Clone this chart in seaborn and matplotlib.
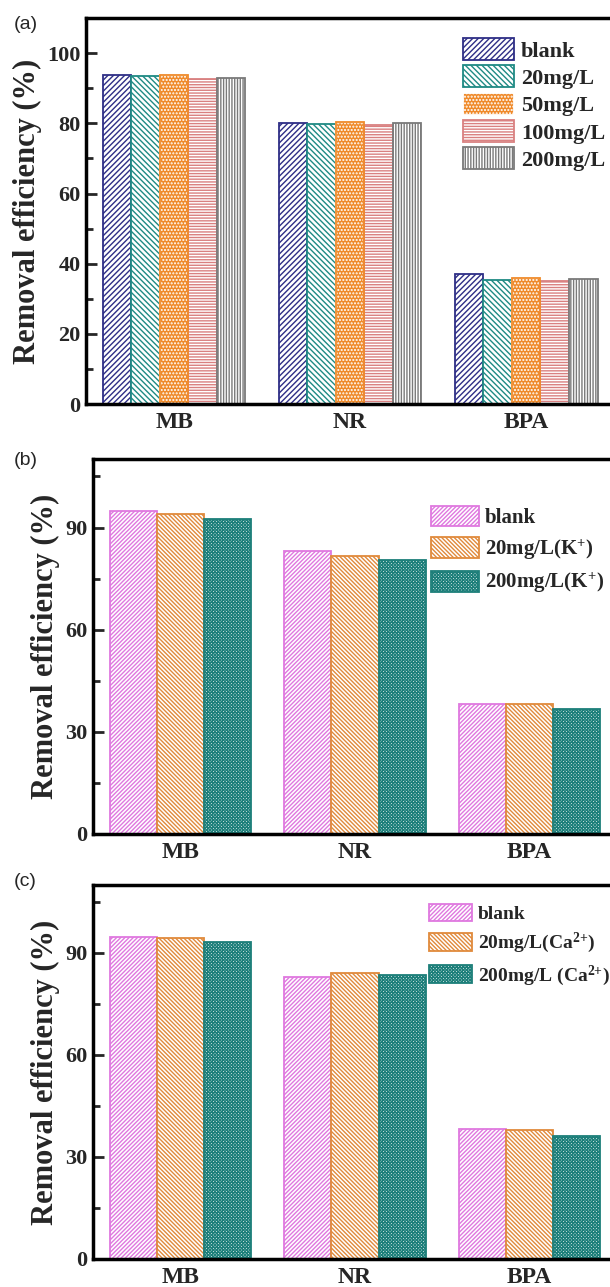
import matplotlib
matplotlib.use('Agg')
import matplotlib.pyplot as plt
import matplotlib.patches as mpatches
from matplotlib.ticker import MultipleLocator
import seaborn as sns
import pandas as pd

samples = ['MB', 'NR', 'BPA']

# panel (a): concentration series
conc_a = ['blank', '20mg/L', '50mg/L', '100mg/L', '200mg/L']
blank_a = [93.9, 80.0, 37.0]
c20_a = [93.6, 79.7, 35.5]
c50_a = [93.7, 80.5, 36.0]
c100_a = [92.5, 79.5, 35.2]
c200_a = [93.0, 80.0, 35.6]

# panel (b): K+
conc_b = ['blank', '20mg/L(K$^{+}$)', '200mg/L(K$^{+}$)']
blank_b = [94.8, 83.0, 38.2]
k20_b = [94.1, 81.7, 38.3]
k200_b = [92.5, 80.4, 36.7]

# panel (c): Ca2+
conc_c = ['blank', '20mg/L(Ca$^{2{+}}$)', '200mg/L (Ca$^{2{+}}$)']
blank_c = [94.8, 82.9, 38.2]
ca20_c = [94.5, 84.1, 37.9]
ca200_c = [93.3, 83.5, 36.3]

sns.set_style('white')
plt.rcParams['font.family'] = ['Liberation Serif', 'DejaVu Serif']
plt.rcParams['mathtext.fontset'] = 'custom'
plt.rcParams['mathtext.rm'] = 'Liberation Serif:bold'
plt.rcParams['mathtext.it'] = 'Liberation Serif:bold'
plt.rcParams['mathtext.bf'] = 'Liberation Serif:bold'
plt.rcParams['hatch.linewidth'] = 1.0


def long_df(conds, series):
    rows = []
    for cond, vals in zip(conds, series):
        for s, v in zip(samples, vals):
            rows.append({'sample': s, 'cond': cond, 'value': v})
    return pd.DataFrame(rows)


def style_bars(ax, styles):
    handles = []
    for cont, (face, edge, hatch, hcol) in zip(ax.containers, styles):
        for p in cont.patches:
            p.set_facecolor(face)
            p.set_linewidth(1.3)
            p.set_hatch(hatch)
            if hcol is not None:
                # hatch drawn in white on a coloured face, outline added on top
                p.set_edgecolor(hcol)
                ax.add_patch(mpatches.Rectangle(p.get_xy(), p.get_width(), p.get_height(),
                                                fill=False, edgecolor=edge, linewidth=1.3))
            else:
                p.set_edgecolor(edge)
        handles.append(mpatches.Patch(facecolor=face, edgecolor=edge if hcol is None else hcol,
                                      hatch=hatch, linewidth=1.3))
    return handles


def panel(ax, df, conds, styles, major, minor, leg_anchor, leg_kw, leg_size):
    sns.barplot(data=df, x='sample', y='value', hue='cond', hue_order=conds,
                order=samples, ax=ax, width=0.81, legend=False, saturation=1,
                errorbar=None)
    handles = style_bars(ax, styles)
    ax.set_ylim(0, 110)
    ax.yaxis.set_major_locator(MultipleLocator(major))
    ax.yaxis.set_minor_locator(MultipleLocator(minor))
    ax.tick_params(axis='y', which='major', direction='in', length=8, width=2,
                   labelsize=16, pad=4, left=True)
    ax.tick_params(axis='y', which='minor', direction='in', length=5, width=2, left=True)
    ax.tick_params(axis='x', length=0, labelsize=17, pad=6)
    for lab in ax.get_xticklabels() + ax.get_yticklabels():
        lab.set_fontweight('bold')
    ax.set_xlabel('')
    ax.set_ylabel('Removal efficiency (%)', fontsize=22, fontweight='bold', labelpad=4)
    for sp in ax.spines.values():
        sp.set_linewidth(2.5)
        sp.set_color('black')
    ax.legend(handles, conds, loc='upper left', bbox_to_anchor=leg_anchor,
              frameon=False, borderpad=0, borderaxespad=0,
              prop={'family': 'Liberation Serif', 'weight': 'bold', 'size': leg_size},
              **leg_kw)


fig = plt.figure(figsize=(6.10, 12.87), dpi=100)
ax_a = fig.add_axes([0.141, 0.686, 0.866, 0.300])
ax_b = fig.add_axes([0.1525, 0.352, 0.859, 0.291])
ax_c = fig.add_axes([0.1525, 0.0218, 0.859, 0.2906])

styles_a = [
    ('white', '#2e2e86', '//////', None),
    ('white', '#1f8a84', '\\\\\\\\\\\\', None),
    ('#ef8a2a', '#ef8a2a', '.....', 'white'),
    ('white', '#d98080', '------', None),
    ('white', '#7a7a7a', '||||||', None),
]
styles_bc = [
    ('white', '#df78df', '////////', None),
    ('white', '#e08a3c', '\\\\\\\\\\\\\\\\', None),
    ('white', '#1d7f7a', 'xxxxxxxxxx', None),
]

panel(ax_a, long_df(conc_a, [blank_a, c20_a, c50_a, c100_a, c200_a]), conc_a,
      styles_a, 20, 10, (0.714, 0.948),
      dict(handlelength=2.3, handleheight=1.15, labelspacing=0.17, handletextpad=0.3), 16)
panel(ax_b, long_df(conc_b, [blank_b, k20_b, k200_b]), conc_b,
      styles_bc, 30, 15, (0.645, 0.877),
      dict(handlelength=2.3, handleheight=1.15, labelspacing=0.45, handletextpad=0.3), 15)
panel(ax_c, long_df(conc_c, [blank_c, ca20_c, ca200_c]), conc_c,
      styles_bc, 30, 15, (0.641, 0.949),
      dict(handlelength=2.2, handleheight=1.0, labelspacing=0.4, handletextpad=0.3), 14)

for letter, ytop in [('(a)', 16), ('(b)', 452), ('(c)', 873)]:
    fig.text(14 / 610, 1 - ytop / 1287, letter, fontsize=14, family='Liberation Sans',
             va='top', ha='left')

fig.savefig('out.png', dpi=100)
